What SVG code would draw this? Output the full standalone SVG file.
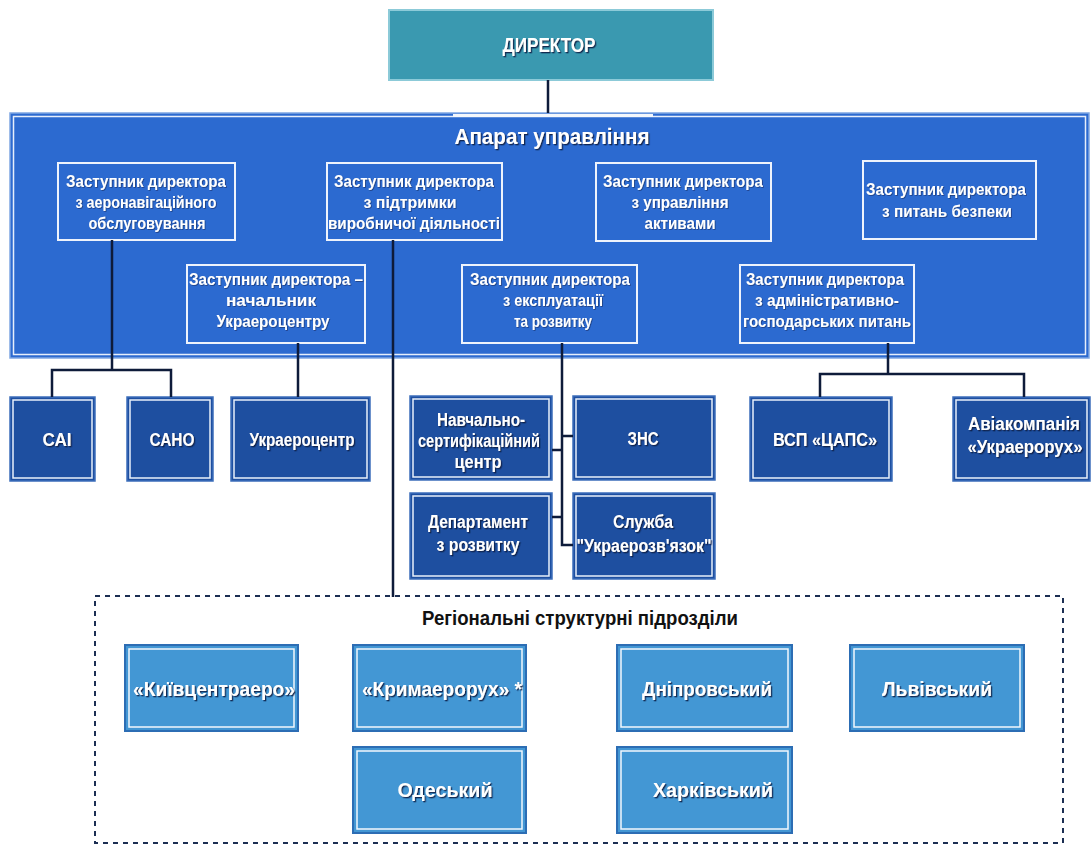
<svg xmlns="http://www.w3.org/2000/svg" width="1092" height="845" viewBox="0 0 1092 845">
<defs>
<filter id="sh" x="-10%" y="-30%" width="120%" height="160%">
<feDropShadow dx="1.3" dy="1.3" stdDeviation="0.5" flood-color="#0B1B45" flood-opacity="0.9"/>
</filter>
<filter id="shs" x="-10%" y="-30%" width="120%" height="160%">
<feDropShadow dx="0.8" dy="0.8" stdDeviation="0.4" flood-color="#0B1B45" flood-opacity="0.6"/>
</filter>
</defs>
<style>
text{font-family:"Liberation Sans",Arial,sans-serif;font-weight:bold;text-anchor:middle;}
.t2{font-size:17px;fill:#ffffff;filter:url(#shs);}
.t3{font-size:18px;fill:#ffffff;filter:url(#sh);}
.t4{font-size:21px;fill:#ffffff;filter:url(#sh);}
.dir{fill:#3A99B0;stroke:#8CCAD8;stroke-width:2;}
.big{fill:#2C6AD0;stroke:#7FA6E2;stroke-width:1.5;}
.bigin{fill:none;stroke:#E6EEFB;stroke-width:1.5;}
.l2{fill:#2C6AD0;stroke:#EEF3FC;stroke-width:2;}
.l3{fill:#1E4FA0;stroke:#3C6EBB;stroke-width:1.5;}
.l3in{fill:none;stroke:#E8F0FA;stroke-width:1.5;}
.rg{fill:#4397D4;stroke:#2C6DB4;stroke-width:2;}
.rgin{fill:none;stroke:#F2F7FD;stroke-width:1.5;}
.con{fill:none;stroke:#0E1B3A;stroke-width:2.5;}
.dash{fill:none;stroke:#1B2E52;stroke-width:2;stroke-dasharray:5 5;}
</style>
<rect width="1092" height="845" fill="#ffffff"/>

<g id="director">
<rect class="dir" x="389" y="10" width="324" height="70"/>
<text class="t3" x="549" y="52" style="font-size:20px" textLength="93" lengthAdjust="spacingAndGlyphs">ДИРЕКТОР</text>
</g>

<g id="aparat">
<rect class="big" x="10" y="113" width="1079" height="245"/>
<rect class="bigin" x="13.5" y="116.5" width="1072" height="238"/>
<rect x="453" y="114" width="200" height="3" fill="#F4F7FC"/>
<text class="t3" x="552" y="144" style="font-size:22px" textLength="195" lengthAdjust="spacingAndGlyphs">Апарат управління</text>
</g>

<g id="dep-aero">
<rect class="l2" x="58" y="163" width="177" height="77"/>
<text class="t2" x="146" y="187" textLength="160" lengthAdjust="spacingAndGlyphs">Заступник директора</text>
<text class="t2" x="146" y="208" textLength="141" lengthAdjust="spacingAndGlyphs">з аеронавігаційного</text>
<text class="t2" x="147" y="229" textLength="117" lengthAdjust="spacingAndGlyphs">обслуговування</text>
</g>

<g id="dep-support">
<rect class="l2" x="327" y="163" width="175" height="77"/>
<text class="t2" x="414" y="187" textLength="160" lengthAdjust="spacingAndGlyphs">Заступник директора</text>
<text class="t2" x="410" y="208" textLength="93" lengthAdjust="spacingAndGlyphs">з підтримки</text>
<text class="t2" x="414" y="229" textLength="172" lengthAdjust="spacingAndGlyphs">виробничої діяльності</text>
</g>

<g id="dep-assets">
<rect class="l2" x="596" y="163" width="175" height="78"/>
<text class="t2" x="683" y="187" textLength="160" lengthAdjust="spacingAndGlyphs">Заступник директора</text>
<text class="t2" x="680" y="208" textLength="97" lengthAdjust="spacingAndGlyphs">з управління</text>
<text class="t2" x="680" y="229" textLength="71" lengthAdjust="spacingAndGlyphs">активами</text>
</g>

<g id="dep-security">
<rect class="l2" x="863" y="161" width="173" height="78"/>
<text class="t2" x="946" y="195" textLength="160" lengthAdjust="spacingAndGlyphs">Заступник директора</text>
<text class="t2" x="947" y="217" textLength="130" lengthAdjust="spacingAndGlyphs">з питань безпеки</text>
</g>

<g id="dep-ukraerocentr">
<rect class="l2" x="187" y="265" width="178" height="78"/>
<text class="t2" x="276" y="285" textLength="174" lengthAdjust="spacingAndGlyphs">Заступник директора –</text>
<text class="t2" x="271" y="306" textLength="90" lengthAdjust="spacingAndGlyphs">начальник</text>
<text class="t2" x="273" y="327" textLength="113" lengthAdjust="spacingAndGlyphs">Украероцентру</text>
</g>

<g id="dep-exploit">
<rect class="l2" x="462" y="265" width="175" height="78"/>
<text class="t2" x="550" y="285" textLength="160" lengthAdjust="spacingAndGlyphs">Заступник директора</text>
<text class="t2" x="553" y="306" textLength="100" lengthAdjust="spacingAndGlyphs">з експлуатації</text>
<text class="t2" x="553" y="327" textLength="78" lengthAdjust="spacingAndGlyphs">та розвитку</text>
</g>

<g id="dep-admin">
<rect class="l2" x="740" y="265" width="174" height="78"/>
<text class="t2" x="825" y="285" textLength="158" lengthAdjust="spacingAndGlyphs">Заступник директора</text>
<text class="t2" x="827" y="306" textLength="144" lengthAdjust="spacingAndGlyphs">з адміністративно-</text>
<text class="t2" x="827" y="327" textLength="168" lengthAdjust="spacingAndGlyphs">господарських питань</text>
</g>

<g id="sai">
<rect class="l3" x="10" y="397" width="85" height="84"/>
<rect class="l3in" x="13" y="400" width="79" height="78"/>
<text class="t3" x="57" y="446" style="font-size:19px" textLength="29" lengthAdjust="spacingAndGlyphs">САІ</text>
</g>
<g id="sano">
<rect class="l3" x="127" y="397" width="86" height="84"/>
<rect class="l3in" x="130" y="400" width="80" height="78"/>
<text class="t3" x="172" y="446" style="font-size:19px" textLength="45" lengthAdjust="spacingAndGlyphs">САНО</text>
</g>
<g id="ukraerocentr">
<rect class="l3" x="231" y="397" width="139" height="84"/>
<rect class="l3in" x="234" y="400" width="133" height="78"/>
<text class="t3" x="302" y="446" textLength="105" lengthAdjust="spacingAndGlyphs">Украероцентр</text>
</g>
<g id="training">
<rect class="l3" x="410" y="396" width="142" height="84"/>
<rect class="l3in" x="413" y="399" width="136" height="78"/>
<text class="t3" x="481" y="426" textLength="88" lengthAdjust="spacingAndGlyphs">Навчально-</text>
<text class="t3" x="479" y="447" textLength="122" lengthAdjust="spacingAndGlyphs">сертифікаційний</text>
<text class="t3" x="478" y="468" textLength="47" lengthAdjust="spacingAndGlyphs">центр</text>
</g>
<g id="zns">
<rect class="l3" x="573" y="396" width="142" height="84"/>
<rect class="l3in" x="576" y="399" width="136" height="78"/>
<text class="t3" x="643" y="445" textLength="31" lengthAdjust="spacingAndGlyphs">ЗНС</text>
</g>
<g id="dept-dev">
<rect class="l3" x="410" y="493" width="142" height="86"/>
<rect class="l3in" x="413" y="496" width="136" height="80"/>
<text class="t3" x="478" y="528" textLength="100" lengthAdjust="spacingAndGlyphs">Департамент</text>
<text class="t3" x="478" y="551" textLength="83" lengthAdjust="spacingAndGlyphs">з розвитку</text>
</g>
<g id="sluzhba">
<rect class="l3" x="573" y="493" width="142" height="86"/>
<rect class="l3in" x="576" y="496" width="136" height="80"/>
<text class="t3" x="643" y="528" textLength="60" lengthAdjust="spacingAndGlyphs">Служба</text>
<text class="t3" x="644" y="552" textLength="135" lengthAdjust="spacingAndGlyphs">"Украерозв'язок"</text>
</g>
<g id="vsp">
<rect class="l3" x="750" y="397" width="142" height="84"/>
<rect class="l3in" x="753" y="400" width="136" height="78"/>
<text class="t3" x="825" y="446" textLength="104" lengthAdjust="spacingAndGlyphs">ВСП «ЦАПС»</text>
</g>
<g id="aviakompania">
<rect class="l3" x="953" y="397" width="137" height="84"/>
<rect class="l3in" x="956" y="400" width="131" height="78"/>
<text class="t3" x="1024" y="430" textLength="112" lengthAdjust="spacingAndGlyphs">Авіакомпанія</text>
<text class="t3" x="1025" y="453" textLength="115" lengthAdjust="spacingAndGlyphs">«Украерорух»</text>
</g>

<g id="regional">
<rect class="dash" x="95" y="596" width="968" height="247"/>
<text x="580" y="625" style="font-size:20px;fill:#111111" textLength="316" lengthAdjust="spacingAndGlyphs">Регіональні структурні підрозділи</text>
</g>
<g id="kyiv">
<rect class="rg" x="125" y="645" width="173" height="86"/>
<rect class="rgin" x="129" y="649" width="165" height="78"/>
<text class="t4" x="214" y="696" textLength="162" lengthAdjust="spacingAndGlyphs">«Київцентраеро»</text>
</g>
<g id="krym">
<rect class="rg" x="353" y="645" width="173" height="86"/>
<rect class="rgin" x="357" y="649" width="165" height="78"/>
<text class="t4" x="442" y="696" textLength="160" lengthAdjust="spacingAndGlyphs">«Кримаерорух» *</text>
</g>
<g id="dnipro">
<rect class="rg" x="617" y="645" width="175" height="86"/>
<rect class="rgin" x="621" y="649" width="167" height="78"/>
<text class="t4" x="707" y="696" textLength="130" lengthAdjust="spacingAndGlyphs">Дніпровський</text>
</g>
<g id="lviv">
<rect class="rg" x="850" y="645" width="174" height="86"/>
<rect class="rgin" x="854" y="649" width="166" height="78"/>
<text class="t4" x="937" y="696" textLength="110" lengthAdjust="spacingAndGlyphs">Львівський</text>
</g>
<g id="odesa">
<rect class="rg" x="353" y="747" width="173" height="86"/>
<rect class="rgin" x="357" y="751" width="165" height="78"/>
<text class="t4" x="445" y="797" textLength="95" lengthAdjust="spacingAndGlyphs">Одеський</text>
</g>
<g id="kharkiv">
<rect class="rg" x="617" y="747" width="175" height="86"/>
<rect class="rgin" x="621" y="751" width="167" height="78"/>
<text class="t4" x="713" y="797" textLength="120" lengthAdjust="spacingAndGlyphs">Харківський</text>
</g>

<g id="connectors">
<path class="con" d="M548,80 V113"/>
<path class="con" d="M112,240 V370 M52,397 V370 H171 V397"/>
<path class="con" d="M298,343 V397"/>
<path class="con" d="M393,240 V597"/>
<path class="con" d="M562,343 V545 H573 M562,436 H573 M552,450 H562 M552,517 H562"/>
<path class="con" d="M888,343 V374 M820,397 V374 H1024 V397"/>
</g>
</svg>
